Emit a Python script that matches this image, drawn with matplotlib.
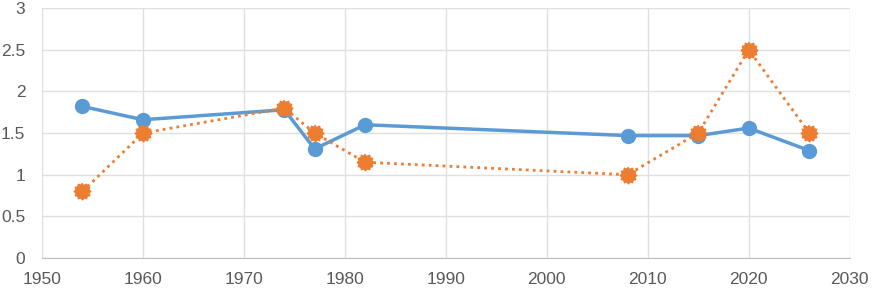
import numpy as np
import matplotlib.pyplot as plt

years = [1954, 1960, 1974, 1977, 1982, 2008, 2015, 2020, 2026]
blue_vals = [1.82, 1.66, 1.78, 1.31, 1.60, 1.47, 1.47, 1.56, 1.29]
orange_vals = [0.80, 1.50, 1.80, 1.50, 1.15, 1.00, 1.50, 2.50, 1.50]

x_ticks = list(range(1950, 2031, 10))
y_ticks = [0, 0.5, 1, 1.5, 2, 2.5, 3]
y_labels = ["0", "0.5", "1", "1.5", "2", "2.5", "3"]

plt.rcParams['font.family'] = ['Liberation Sans', 'DejaVu Sans']

# jagged "burst" marker shape for the orange series
n = 24
ang = np.linspace(0, 2 * np.pi, n, endpoint=False) + np.pi / 2
rad = np.where(np.arange(n) % 2 == 0, 1.0, 0.78)
burst = np.column_stack([rad * np.cos(ang), rad * np.sin(ang)])

fig = plt.figure(figsize=(8.76, 2.89), dpi=100)
ax = fig.add_axes([0.048, 0.107, 0.922, 0.865])

ax.plot(years, blue_vals, color='#5B9BD5', lw=2.5, marker='o', ms=10,
        zorder=3)
ax.plot(years, orange_vals, color='#ED7D31', lw=2, ls=(0, (1, 1.5)),
        marker=burst, ms=12, mec='#ED7D31', mfc='#ED7D31', zorder=4)

ax.set_xlim(1950, 2030)
ax.set_ylim(0, 3)
ax.set_xticks(x_ticks)
ax.set_yticks(y_ticks)
ax.set_yticklabels(y_labels)
ax.grid(True, color='#E0E0E0', lw=1)
ax.set_axisbelow(True)
for s in ['top', 'right', 'left']:
    ax.spines[s].set_visible(False)
ax.spines['bottom'].set_color('#BFBFBF')
ax.tick_params(length=0, labelsize=12.5, colors='#595959')
ax.tick_params(axis='x', pad=10)
ax.tick_params(axis='y', pad=12)

fig.savefig('out.png', dpi=100)
